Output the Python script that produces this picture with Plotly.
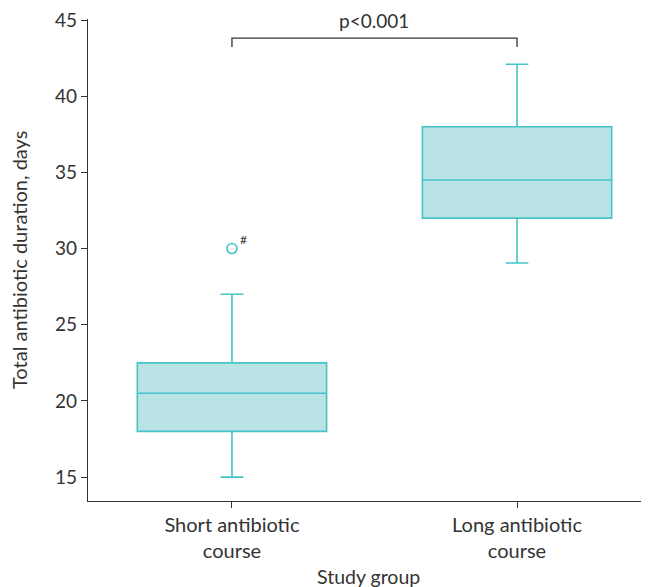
import plotly.graph_objects as go

groups = ["Short antibiotic<br>course", "Long antibiotic<br>course"]
q1 = [18.0, 32.0]
median = [20.5, 34.5]
q3 = [22.5, 38.0]
lower_whisker = [15.0, 29.05]
upper_whisker = [27.0, 42.1]
outlier_group = [groups[0]]
outlier_value = [30.0]
p_text = "p<0.001"
x_title = "Study group"
y_title = "Total antibiotic duration, days"
y_ticks = [15, 20, 25, 30, 35, 40, 45]

line_col = "#45c3c7"
fill_col = "#bae3e5"
text_col = "#333333"
font_family = "Source Sans Pro, Lato, Noto Sans, sans-serif"

fig = go.Figure()
fig.add_trace(go.Box(
    x=groups, q1=q1, median=median, q3=q3,
    lowerfence=lower_whisker, upperfence=upper_whisker,
    fillcolor=fill_col, line=dict(color=line_col, width=1.6),
    width=0.664, whiskerwidth=0.12, boxpoints=False, showlegend=False,
))
fig.add_trace(go.Scatter(
    x=outlier_group, y=outlier_value, mode="markers",
    marker=dict(symbol="circle-open", size=10, color=line_col, line=dict(width=1.6)),
    showlegend=False,
))

fig.add_annotation(x=0, y=outlier_value[0], xref="x", yref="y", text="#",
                   showarrow=False, xshift=12, yshift=9,
                   font=dict(size=12, color=text_col, family=font_family))

# significance bracket
yb, yt = 43.23, 43.82
fig.add_shape(type="path", xref="x", yref="y",
              path=f"M 0,{yb} L 0,{yt} L 1,{yt} L 1,{yb}",
              line=dict(color=text_col, width=1.3))
fig.add_annotation(x=0.5, y=45, xref="x", yref="y", text=p_text, showarrow=False,
                   yanchor="middle",
                   font=dict(size=19, color=text_col, family=font_family))

# axis titles
fig.add_annotation(x=0.5, y=(501 - 576) / 482, xref="paper", yref="paper",
                   text=x_title, showarrow=False, yanchor="middle",
                   font=dict(size=19.5, color=text_col, family=font_family))
fig.add_annotation(x=(19 - 88) / 561, y=0.5, xref="paper", yref="paper",
                   text=y_title, showarrow=False, textangle=-90,
                   xanchor="center", yanchor="middle",
                   font=dict(size=20, color=text_col, family=font_family))

fig.update_layout(
    width=649, height=587,
    margin=dict(l=80, r=8, t=11, b=94),
    paper_bgcolor="white", plot_bgcolor="white",
    font=dict(family=font_family, size=19, color=text_col),
)
fig.update_xaxes(
    type="category", range=[-0.505, 1.463], automargin=False,
    showline=True, linecolor=text_col, linewidth=1.2,
    ticks="outside", ticklen=6, tickcolor=text_col, showgrid=False, zeroline=False,
    tickfont=dict(size=20),
)
fig.update_yaxes(
    range=[13.43, 45.07], tickvals=y_ticks, automargin=False,
    ticklabeloverflow="allow",
    showline=True, linecolor=text_col, linewidth=1.2,
    ticks="outside", ticklen=6, tickcolor=text_col, showgrid=False, zeroline=False,
    tickfont=dict(size=19),
)

fig.write_html("out.html")
